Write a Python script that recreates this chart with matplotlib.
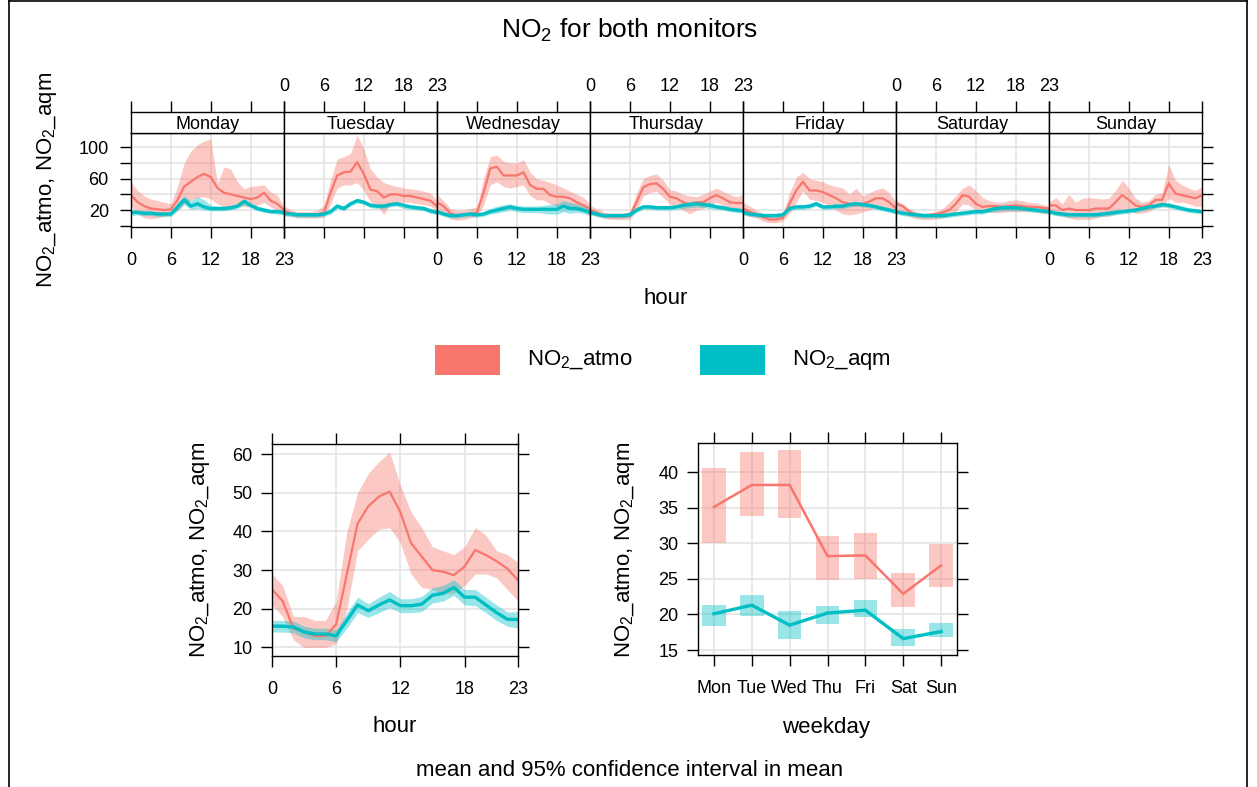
import numpy as np
import matplotlib.pyplot as plt
from matplotlib.patches import Rectangle

plt.rcParams['font.family'] = ['Liberation Sans', 'DejaVu Sans']
plt.rcParams['mathtext.fontset'] = 'custom'
plt.rcParams['mathtext.rm'] = 'Liberation Sans'
plt.rcParams['mathtext.it'] = 'Liberation Sans:italic'
plt.rcParams['mathtext.default'] = 'regular'

#%%
# --> Data
days = ['Monday', 'Tuesday', 'Wednesday', 'Thursday', 'Friday', 'Saturday', 'Sunday']
day_short = ['Mon', 'Tue', 'Wed', 'Thu', 'Fri', 'Sat', 'Sun']
hours = list(range(24))

# NO2_atmo by day and hour: mean, lower and upper 95% CI
atmo_mean = [
    [39, 30, 25, 22, 21, 20, 21, 33, 50, 56, 62, 66, 62, 48, 42, 40, 38, 36, 34, 36, 42, 32, 28, 20],
    [19, 16, 14, 14, 14, 14, 17, 42, 64, 68, 69, 81, 66, 46, 44, 36, 40, 40, 38, 38, 36, 34, 32, 25],
    [30, 25, 16, 13, 14, 15, 17, 42, 73, 75, 64, 64, 64, 68, 52, 47, 47, 39, 37, 37, 35, 30, 26, 22],
    [20, 17, 13, 12, 12, 12, 13, 30, 49, 53, 54, 47, 37, 35, 30, 27, 30, 30, 35, 39, 35, 30, 29, 29],
    [22, 18, 15, 11, 8, 8, 10, 28, 45, 56, 45, 45, 43, 39, 35, 30, 28, 26, 28, 31, 35, 35, 30, 22],
    [28, 25, 18, 14, 13, 14, 15, 17, 20, 28, 39, 37, 28, 24, 25, 25, 24, 25, 26, 25, 24, 24, 23, 22],
    [26, 26, 20, 22, 20, 20, 20, 22, 22, 22, 30, 39, 33, 26, 24, 26, 33, 33, 54, 41, 39, 37, 35, 39],
]
atmo_lo = [
    [25, 15, 10, 9, 10, 12, 14, 20, 28, 33, 36, 37, 34, 28, 24, 22, 24, 25, 24, 26, 30, 24, 20, 16],
    [13, 12, 10, 10, 10, 10, 11, 28, 48, 52, 52, 55, 45, 30, 26, 14, 28, 30, 30, 30, 28, 27, 25, 19],
    [22, 15, 9, 7, 8, 10, 12, 26, 52, 56, 50, 48, 50, 52, 38, 33, 33, 28, 25, 25, 22, 20, 18, 15],
    [15, 12, 10, 8, 8, 8, 8, 20, 38, 42, 44, 36, 28, 25, 20, 15, 20, 22, 26, 30, 26, 22, 20, 18],
    [15, 12, 10, 6, 4, 4, 6, 16, 30, 44, 34, 32, 30, 25, 20, 15, 14, 15, 18, 20, 24, 24, 20, 15],
    [22, 18, 12, 9, 8, 8, 9, 10, 12, 18, 28, 26, 20, 18, 17, 17, 17, 18, 18, 18, 18, 18, 16, 16],
    [18, 14, 12, 10, 8, 8, 8, 10, 12, 12, 15, 22, 20, 16, 16, 18, 24, 24, 35, 30, 30, 28, 25, 25],
]
atmo_hi = [
    [55, 45, 38, 34, 32, 30, 28, 50, 80, 95, 103, 108, 110, 54, 75, 72, 56, 47, 50, 51, 52, 43, 39, 24],
    [26, 20, 18, 18, 18, 20, 26, 58, 85, 88, 92, 115, 98, 72, 62, 55, 52, 50, 48, 47, 46, 44, 42, 32],
    [40, 32, 22, 20, 20, 22, 24, 60, 88, 90, 82, 80, 80, 84, 68, 60, 58, 55, 52, 48, 44, 40, 36, 28],
    [26, 22, 18, 16, 16, 16, 18, 42, 60, 64, 66, 58, 46, 44, 40, 38, 37, 40, 44, 48, 44, 40, 37, 40],
    [30, 25, 20, 16, 14, 14, 16, 42, 62, 68, 60, 58, 56, 52, 50, 48, 40, 48, 38, 42, 46, 48, 42, 30],
    [33, 28, 22, 18, 16, 16, 18, 22, 30, 38, 48, 52, 45, 36, 32, 30, 30, 32, 33, 32, 30, 29, 27, 25],
    [30, 36, 28, 40, 30, 35, 36, 35, 34, 35, 45, 58, 48, 35, 30, 32, 40, 42, 78, 58, 52, 48, 45, 50],
]

# NO2_aqm by day and hour
aqm_mean = [
    [17, 17, 16, 16, 15, 15, 15, 24, 33, 25, 28, 24, 22, 22, 22, 23, 25, 31, 26, 22, 20, 18, 18, 17],
    [16, 15, 14, 14, 14, 14, 15, 18, 25, 22, 28, 32, 30, 26, 25, 25, 27, 28, 26, 24, 23, 22, 19, 17],
    [18, 15, 13, 13, 14, 15, 14, 15, 18, 20, 22, 24, 22, 21, 21, 21, 21, 21, 21, 25, 22, 22, 20, 17],
    [17, 15, 13, 13, 13, 13, 14, 20, 24, 24, 23, 23, 23, 24, 26, 27, 28, 27, 26, 24, 23, 21, 20, 19],
    [17, 15, 14, 13, 13, 13, 14, 22, 24, 24, 25, 28, 24, 24, 25, 25, 27, 28, 27, 26, 24, 22, 20, 18],
    [18, 16, 15, 14, 13, 13, 13, 13, 14, 15, 16, 17, 18, 18, 20, 22, 23, 23, 23, 22, 21, 20, 19, 18],
    [18, 16, 15, 14, 14, 14, 14, 14, 15, 16, 17, 18, 19, 20, 22, 24, 25, 27, 26, 24, 22, 20, 19, 18],
]
aqm_lo = [
    [13, 14, 13, 13, 12, 12, 12, 19, 27, 21, 22, 20, 19, 19, 19, 20, 22, 27, 23, 19, 17, 16, 15, 14],
    [13, 12, 11, 11, 11, 11, 12, 15, 22, 19, 25, 29, 27, 23, 22, 22, 24, 25, 22, 21, 20, 19, 16, 14],
    [15, 12, 10, 10, 11, 12, 11, 12, 15, 16, 18, 20, 18, 17, 17, 17, 16, 15, 15, 18, 16, 17, 16, 13],
    [14, 12, 10, 10, 10, 10, 11, 17, 21, 21, 20, 20, 20, 21, 22, 23, 24, 23, 22, 21, 20, 18, 17, 16],
    [14, 12, 11, 10, 10, 10, 11, 19, 21, 21, 22, 25, 21, 21, 22, 22, 24, 25, 24, 23, 21, 19, 17, 15],
    [15, 13, 12, 11, 10, 10, 10, 10, 11, 12, 13, 14, 15, 15, 17, 18, 19, 19, 19, 19, 18, 17, 16, 15],
    [15, 13, 12, 11, 11, 11, 11, 11, 12, 13, 14, 15, 16, 17, 19, 21, 22, 24, 23, 21, 19, 17, 16, 15],
]
aqm_hi = [
    [21, 20, 19, 19, 18, 18, 18, 29, 38, 32, 37, 33, 26, 25, 25, 26, 28, 35, 29, 25, 23, 21, 21, 20],
    [19, 18, 17, 17, 17, 17, 18, 21, 28, 25, 31, 35, 33, 29, 28, 28, 30, 31, 29, 27, 26, 25, 22, 20],
    [21, 18, 16, 16, 17, 18, 17, 18, 22, 25, 27, 28, 26, 25, 25, 25, 26, 27, 28, 32, 30, 28, 25, 21],
    [20, 18, 16, 16, 16, 16, 17, 23, 27, 27, 26, 26, 26, 27, 30, 31, 32, 31, 30, 27, 26, 24, 23, 22],
    [20, 18, 17, 16, 16, 16, 17, 25, 27, 27, 28, 31, 27, 27, 28, 28, 30, 31, 30, 29, 27, 25, 23, 21],
    [21, 19, 18, 17, 16, 16, 16, 16, 17, 18, 19, 20, 21, 21, 23, 26, 27, 27, 27, 25, 24, 23, 22, 21],
    [21, 19, 18, 17, 17, 17, 17, 17, 18, 19, 20, 21, 22, 23, 25, 27, 28, 30, 29, 27, 25, 23, 22, 21],
]

# diurnal profile (all days)
hour_atmo = [25, 22, 15, 14, 13, 13, 16, 29, 42, 46.5, 49, 50.3, 45, 37, 33.5, 30, 29.6, 28.7, 30.9, 35.2, 33.9, 32.3, 30.4, 27.4]
hour_atmo_lo = [21, 18, 12, 10, 10, 10, 11, 20, 35, 38, 40.5, 41, 37, 29, 25.5, 25, 24, 24, 26, 29, 29, 28, 25, 22]
hour_atmo_hi = [29, 26, 18, 18, 17, 17, 22, 40, 50, 55, 58, 60.5, 52, 45, 41, 36, 35, 34, 36, 41, 39, 35, 34, 32]
hour_aqm = [15.5, 15.5, 15.3, 14, 13.5, 13.5, 13, 17, 21, 19.5, 21, 22.3, 20.8, 20.8, 21.2, 23.5, 24, 25.5, 23, 23, 21, 19, 17.3, 17.2]
hour_aqm_lo = [14, 14, 13.8, 12.5, 12, 12, 11.5, 15, 19, 17.8, 19, 20.3, 19, 19, 19.3, 21.5, 22, 23.5, 21, 20.8, 19, 17, 15.5, 15]
hour_aqm_hi = [17, 17, 16.8, 15.5, 15, 15, 14.5, 19, 23, 21.3, 23, 24.5, 22.6, 22.6, 23.2, 25.5, 26, 27.5, 25, 25, 23, 21, 19.2, 19.2]

# weekday profile
wd_atmo = [35.1, 38.2, 38.2, 28.2, 28.3, 22.9, 26.9]
wd_atmo_lo = [30.1, 33.9, 33.6, 24.8, 25.0, 21.0, 23.8]
wd_atmo_hi = [40.6, 42.9, 43.1, 31.0, 31.4, 25.8, 29.9]
wd_aqm = [20.1, 21.3, 18.5, 20.2, 20.6, 16.6, 17.6]
wd_aqm_lo = [18.4, 19.8, 16.5, 18.7, 19.6, 15.6, 16.8]
wd_aqm_hi = [21.3, 22.7, 20.5, 21.2, 22.1, 18.0, 18.8]

#%%
# --> Layout helpers
W, H = 1257, 787
RED = '#F8766D'
CYAN = '#00BFC4'
GRID = '#E4E4E4'
TICK = 13
LAB = 16
hour_ticks = [0, 6, 12, 18, 23]


def rect(x0, y0, x1, y1):
    return [x0 / W, 1 - y1 / H, (x1 - x0) / W, (y1 - y0) / H]


def style(ax):
    for s in ax.spines.values():
        s.set_linewidth(1.0)
    ax.tick_params(direction='out', length=8, width=1, labelsize=TICK)
    ax.tick_params(axis='x', pad=10)
    ax.tick_params(axis='y', pad=6)


fig = plt.figure(figsize=(W / 100, H / 100), dpi=100)

bg = fig.add_axes([0, 0, 1, 1])
bg.set_xlim(0, W)
bg.set_ylim(H, 0)
bg.axis('off')
bg.plot([9, 9], [0, H], color='black', lw=1.2)
bg.plot([1247, 1247], [0, H], color='black', lw=1.2)
bg.plot([9, 1247], [1, 1], color='black', lw=1.2)
bg.text(630, 30, 'NO$_2$ for both monitors', ha='center', va='center', fontsize=19)
bg.text(47, 180, 'NO$_2$_atmo, NO$_2$_aqm', rotation=90, ha='center', va='center', fontsize=LAB)
bg.text(666, 298, 'hour', ha='center', va='center', fontsize=LAB)
bg.add_patch(Rectangle((435, 345), 65, 30, color=RED, lw=0))
bg.text(527, 360, 'NO$_2$_atmo', ha='left', va='center', fontsize=LAB)
bg.add_patch(Rectangle((700, 345), 65, 30, color=CYAN, lw=0))
bg.text(792, 360, 'NO$_2$_aqm', ha='left', va='center', fontsize=LAB)
bg.text(200, 550, 'NO$_2$_atmo, NO$_2$_aqm', rotation=90, ha='center', va='center', fontsize=LAB)
bg.text(625, 550, 'NO$_2$_atmo, NO$_2$_aqm', rotation=90, ha='center', va='center', fontsize=LAB)
bg.text(395, 727, 'hour', ha='center', va='center', fontsize=LAB)
bg.text(826, 727, 'weekday', ha='center', va='center', fontsize=LAB)
bg.text(630, 770, 'mean and 95% confidence interval in mean', ha='center', va='center', fontsize=LAB)

#%%
# --> Day x hour panels
for i, day in enumerate(days):
    x0 = 131 + i * 153
    ax = fig.add_axes(rect(x0, 133, x0 + 153, 227))
    style(ax)
    ax.set_xlim(0, 23)
    ax.set_ylim(-1.5, 118)
    for v in [6, 12, 18]:
        ax.axvline(v, color=GRID, lw=1.2, zorder=0)
    for v in range(20, 101, 20):
        ax.axhline(v, color=GRID, lw=1.2, zorder=0)
    ax.fill_between(hours, atmo_lo[i], atmo_hi[i], color=RED, alpha=0.4, lw=0)
    ax.plot(hours, atmo_mean[i], color=RED, lw=1.6)
    ax.fill_between(hours, aqm_lo[i], aqm_hi[i], color=CYAN, alpha=0.4, lw=0)
    ax.plot(hours, aqm_mean[i], color=CYAN, lw=2.4)
    ax.set_xticks(hour_ticks)
    ax.tick_params(axis='x', bottom=True, top=False, labelbottom=(i % 2 == 0))
    if i in (0, 6):
        ax.set_yticks(range(0, 101, 20))
        ax.set_yticklabels(['', '20', '', '60', '', '100'])
        ax.tick_params(axis='y', left=(i == 0), right=(i == 6), labelleft=(i == 0), labelright=False,
                       pad=8)
    else:
        ax.set_yticks([])

    st = fig.add_axes(rect(x0, 112, x0 + 153, 133))
    style(st)
    st.set_xlim(0, 23)
    st.set_ylim(0, 1)
    st.set_yticks([])
    st.set_xticks(hour_ticks)
    st.tick_params(axis='x', bottom=False, top=True, labelbottom=False, labeltop=(i % 2 == 1), pad=4)
    st.text(11.5, 0.42, day, ha='center', va='center', fontsize=TICK)

#%%
# --> Hour panel
ax = fig.add_axes(rect(272, 444, 518, 656))
style(ax)
ax.set_xlim(0, 23)
ax.set_ylim(7.8, 62.6)
for v in [6, 12, 18]:
    ax.axvline(v, color=GRID, lw=1.2, zorder=0)
for v in range(10, 61, 10):
    ax.axhline(v, color=GRID, lw=1.2, zorder=0)
ax.fill_between(hours, hour_atmo_lo, hour_atmo_hi, color=RED, alpha=0.4, lw=0)
ax.plot(hours, hour_atmo, color=RED, lw=1.6)
ax.fill_between(hours, hour_aqm_lo, hour_aqm_hi, color=CYAN, alpha=0.4, lw=0)
ax.plot(hours, hour_aqm, color=CYAN, lw=2.4)
ax.set_xticks(hour_ticks)
ax.set_yticks(range(10, 61, 10))
ax.tick_params(top=True, right=True)

#%%
# --> Weekday panel
wd_x = np.arange(1, 8)
ax = fig.add_axes(rect(698, 443, 957, 655))
style(ax)
ax.set_xlim(0.58, 7.42)
ax.set_ylim(14.3, 44.1)
for v in wd_x:
    ax.axvline(v, color=GRID, lw=1.2, zorder=0)
for v in range(15, 41, 5):
    ax.axhline(v, color=GRID, lw=1.2, zorder=0)
ax.bar(wd_x, np.array(wd_atmo_hi) - np.array(wd_atmo_lo), bottom=wd_atmo_lo, width=0.62,
       color=RED, alpha=0.4, lw=0)
ax.plot(wd_x, wd_atmo, color=RED, lw=1.8)
ax.bar(wd_x, np.array(wd_aqm_hi) - np.array(wd_aqm_lo), bottom=wd_aqm_lo, width=0.62,
       color=CYAN, alpha=0.4, lw=0)
ax.plot(wd_x, wd_aqm, color=CYAN, lw=2.4)
ax.set_xticks(wd_x)
ax.set_xticklabels(day_short)
ax.set_yticks(range(15, 41, 5))
ax.tick_params(top=True, right=True)

fig.savefig('out.png', dpi=100)
